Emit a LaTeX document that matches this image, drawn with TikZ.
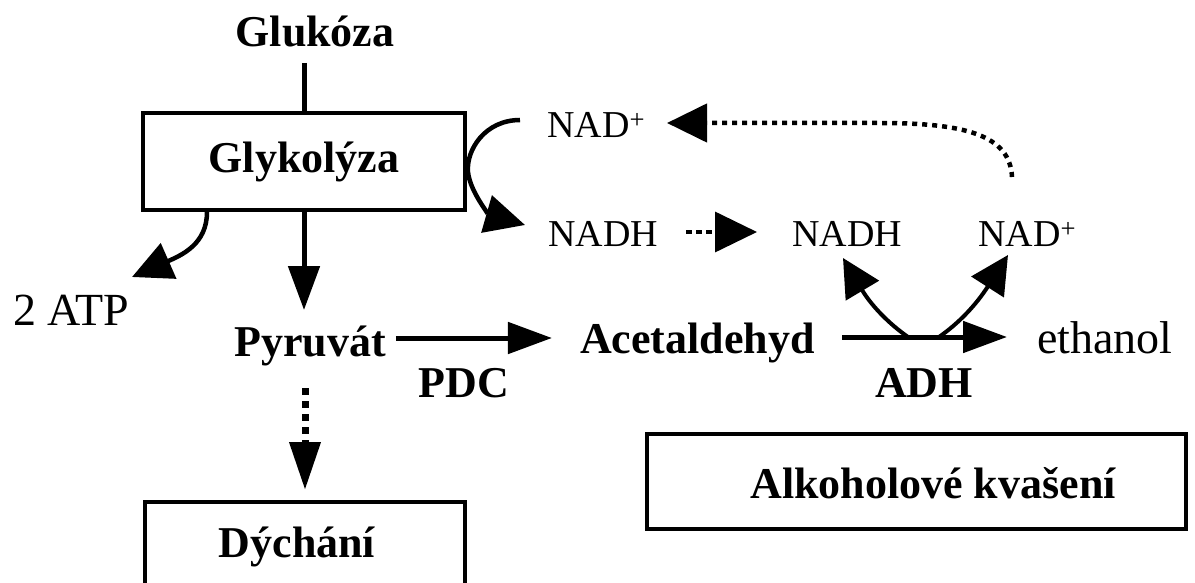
\documentclass[tikz,border=0pt]{standalone}
\usepackage{fontspec}
\setmainfont{Liberation Serif}
\usetikzlibrary{arrows.meta}
\begin{document}
\begin{tikzpicture}[x=1pt,y=-1pt,
  lbl/.style={inner sep=0pt, anchor=base},
  bf/.style={lbl, font=\fontsize{44}{50}\selectfont\bfseries},
  rm/.style={lbl, font=\fontsize{46}{52}\selectfont},
  nad/.style={lbl, font=\fontsize{38}{44}\selectfont},
  boxed/.style={draw, line width=4pt, inner sep=0pt, font=\fontsize{44}{50}\selectfont\bfseries},
  flow/.style={line width=5pt, -{Triangle[length=44pt,width=31pt]}},
  curvarrow/.style={line width=4.5pt, -{Triangle[length=40pt,width=38pt]}},
  dotflow/.style={line width=7pt, dash pattern=on 7pt off 6pt, -{Triangle[length=48pt,width=30pt]}},
  dotback/.style={line width=4.5pt, dash pattern=on 5pt off 5pt, -{Triangle[length=40pt,width=38pt]}},
  dotshort/.style={line width=3.5pt, dash pattern=on 6pt off 4pt, -{Triangle[length=42pt,width=40pt]}}
]
\useasboundingbox (0,0) rectangle (1195,583);
\fill[white] (0,0) rectangle (1195,583);

% nodes
\node[bf] (gluk) at (315,47) {Glukóza};
\node[boxed, minimum width=322pt, minimum height=97pt, text height=30pt, text depth=7pt] (glyk) at (304,161.5) {Glykolýza};
\node[rm, anchor=base west] (atp) at (13,325) {2 ATP};
\node[bf] (pyr) at (310,356) {Pyruvát};
\node[bf] (pdc) at (464,397) {PDC};
\node[bf, anchor=base east] (acet) at (815,353) {Acetaldehyd};
\node[rm, anchor=base west] (eth) at (1037,353) {ethanol};
\node[bf] (adh) at (924,397) {ADH};
\node[nad, anchor=base west] (nadp1) at (547,138) {NAD\textsuperscript{+}};
\node[nad, anchor=base west] (nadh1) at (548,247) {NADH};
\node[nad, anchor=base west] (nadh2) at (792,247) {NADH};
\node[nad, anchor=base west] (nadp2) at (978,247) {NAD\textsuperscript{+}};
\node[boxed, minimum width=320pt, minimum height=110pt, text height=10pt, text depth=10pt] (dych) at (305,557) {Dýchání\hspace*{16pt}};
\node[boxed, minimum width=539pt, minimum height=95pt, text height=38pt, text depth=5pt] (alk) at (916.5,481.5) {\hspace*{33pt}Alkoholové kvašení};

\coordinate (d0) at (305,388);
\coordinate (b1) at (908,337);
\coordinate (b2) at (939,337);

% connectors
\draw[line width=5pt, shorten <=16pt] (glyk.north |- gluk.base) -- (glyk.north);
\draw[flow, shorten >=46pt] (glyk.south) -- (glyk.south |- pyr.base);
\draw[curvarrow] ([xshift=-97pt]glyk.south) .. controls +(0,32) and +(50,-22) .. ([shift={(119,-48)}]atp.base west);
\draw[curvarrow] ([shift={(-27,-18)}]nadp1.base west) .. controls (485,120) and (466,150) .. (468,172)
   .. controls (470,192) and (490,215) .. ([shift={(-23,-22)}]nadh1.base west);
\draw[dotback] ([shift={(34,-70)}]nadp2.base west) .. controls (1010,135) and (965,123) .. (880,123)
   -- ([shift={(120,-15)}]nadp1.base west);
\draw[dotshort] ([shift={(28,-15)}]nadh1.base east) -- ([shift={(-35,-15)}]nadh2.base west);
\draw[flow] ([shift={(10,-18)}]pyr.base east) -- ([shift={(-28,-15)}]acet.base west);
\draw[flow] ([shift={(27,-16)}]acet.base east) -- ([shift={(-30,-16)}]eth.base west);
\draw[curvarrow, line width=4pt, -{Triangle[length=38pt,width=38pt]}] (b1) .. controls +(-20,-14) and +(28,47) .. ([shift={(51,11)}]nadh2.base west);
\draw[curvarrow, line width=4pt, -{Triangle[length=38pt,width=38pt]}] (b2) .. controls +(20,-14) and +(-32,50) .. ([shift={(30,8)}]nadp2.base west);
\draw[dotflow, shorten >=10pt] (d0) -- (dych.north -| d0);
\end{tikzpicture}
\end{document}
